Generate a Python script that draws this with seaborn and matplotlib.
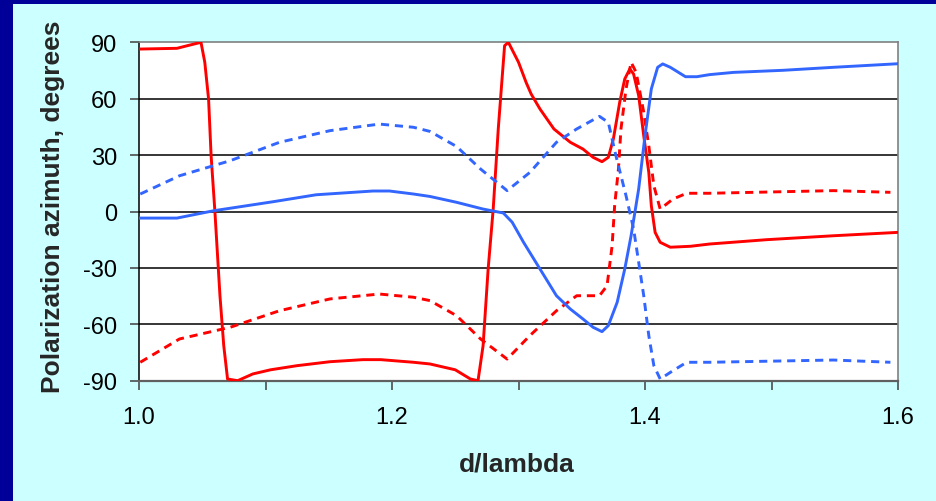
import matplotlib
matplotlib.use("Agg")
import matplotlib.pyplot as plt
import seaborn as sns
import numpy as np
from matplotlib.patches import Rectangle

# ---- data ----
red_solid_x = [1.000, 1.030, 1.040, 1.049, 1.052, 1.055, 1.057, 1.060, 1.064, 1.067, 1.070,
               1.078, 1.090, 1.104, 1.125, 1.151, 1.177, 1.191, 1.217, 1.230, 1.250, 1.262,
               1.268, 1.272, 1.276, 1.280, 1.284, 1.287, 1.289, 1.292, 1.300, 1.306, 1.310,
               1.317, 1.328, 1.341, 1.351, 1.359, 1.366, 1.371, 1.375, 1.380, 1.384, 1.388,
               1.391, 1.395, 1.399, 1.403, 1.405, 1.408, 1.412, 1.420, 1.436, 1.451, 1.496,
               1.549, 1.600]
red_solid_y = [86.4, 86.8, 88.5, 90.0, 79.4, 59.8, 29.7, 0.0, -44.8, -71.4, -89.1,
               -90.0, -86.4, -84.2, -82.0, -79.9, -78.8, -78.8, -80.2, -81.1, -84.2, -89.1,
               -90.0, -71.4, -30.6, 1.3, 43.9, 70.5, 88.2, 90.0, 79.4, 68.7, 62.5,
               54.5, 43.9, 36.8, 33.2, 28.8, 26.5, 28.8, 38.6, 58.1, 70.5, 75.8,
               73.1, 61.6, 40.3, 20.8, 3.1, -11.1, -16.4, -19.0, -18.5, -17.3, -15.0,
               -12.9, -11.1]

red_dash_x = [1.001, 1.032, 1.072, 1.111, 1.151, 1.190, 1.217, 1.230, 1.251, 1.270, 1.291,
              1.309, 1.330, 1.346, 1.364, 1.370, 1.374, 1.376, 1.379, 1.381, 1.385, 1.389,
              1.393, 1.399, 1.403, 1.407, 1.412, 1.422, 1.433, 1.451, 1.500, 1.549, 1.594]
red_dash_y = [-80.2, -67.8, -61.6, -52.8, -46.5, -43.9, -45.6, -47.4, -55.4, -67.8, -78.5,
              -66.0, -52.8, -44.8, -44.8, -39.5, -18.2, 3.1, 22.6, 43.9, 65.2, 79.4,
              74.0, 52.8, 35.0, 13.7, 1.3, 6.6, 9.7, 9.7, 10.4, 11.1, 10.2]

blue_solid_x = [1.000, 1.030, 1.059, 1.106, 1.140, 1.185, 1.198, 1.217, 1.230, 1.251, 1.272,
                1.288, 1.295, 1.304, 1.317, 1.330, 1.341, 1.351, 1.359, 1.366, 1.371, 1.378,
                1.384, 1.389, 1.395, 1.400, 1.405, 1.410, 1.414, 1.420, 1.432, 1.441, 1.451,
                1.470, 1.509, 1.549, 1.600]
blue_solid_y = [-3.5, -3.5, 0.4, 5.2, 8.9, 10.9, 10.9, 9.3, 8.0, 4.9, 1.3,
                -0.8, -5.7, -16.4, -30.6, -44.8, -51.9, -57.2, -61.6, -63.9, -60.7, -48.3,
                -30.6, -12.9, 12.0, 40.3, 65.2, 76.7, 78.5, 76.7, 71.7, 71.7, 72.8,
                74.0, 75.1, 76.7, 78.6]

blue_dash_x = [1.001, 1.032, 1.072, 1.111, 1.151, 1.190, 1.217, 1.230, 1.251, 1.270, 1.291,
               1.309, 1.330, 1.346, 1.364, 1.371, 1.377, 1.385, 1.391, 1.395, 1.399, 1.403,
               1.407, 1.412, 1.422, 1.433, 1.451, 1.500, 1.549, 1.594]
blue_dash_y = [9.3, 19.0, 27.0, 36.8, 43.0, 46.5, 44.8, 42.6, 34.6, 22.6, 11.1,
               20.8, 36.8, 43.9, 50.6, 47.4, 29.7, 8.4, -9.3, -27.0, -44.8, -66.0,
               -82.0, -89.1, -84.7, -80.2, -80.2, -79.6, -79.0, -80.2]

x_ticks = [1.0, 1.1, 1.2, 1.3, 1.4, 1.5, 1.6]
x_tick_labels = ["1.0", "", "1.2", "", "1.4", "", "1.6"]
y_ticks = [-90, -60, -30, 0, 30, 60, 90]

# ---- figure ----
sns.set_style("white")
plt.rcParams['font.family'] = ['Liberation Sans', 'DejaVu Sans']

W, H = 936, 502
fig = plt.figure(figsize=(W / 100, H / 100), dpi=100)
fig.patch.set_facecolor("#000099")
bg = Rectangle((13 / W, 0), 1 - 13 / W, (H - 5) / H,
               transform=fig.transFigure, facecolor="#CCFFFF",
               edgecolor="none", zorder=-10)
fig.add_artist(bg)

left, right, top, bottom = 139, 898, 43.3, 381.7
ax = fig.add_axes([left / W, (H - bottom) / H, (right - left) / W, (bottom - top) / H])
ax.set_zorder(1)
ax.set_facecolor("white")

RED = "#FF0000"
BLUE = "#3366FF"
LW = 2.1

sns.lineplot(x=red_solid_x, y=red_solid_y, ax=ax, color=RED, lw=LW, sort=False,
             estimator=None, zorder=3)
sns.lineplot(x=red_dash_x, y=red_dash_y, ax=ax, color=RED, lw=LW, sort=False,
             estimator=None, zorder=3)
sns.lineplot(x=blue_solid_x, y=blue_solid_y, ax=ax, color=BLUE, lw=LW, sort=False,
             estimator=None, zorder=3)
sns.lineplot(x=blue_dash_x, y=blue_dash_y, ax=ax, color=BLUE, lw=LW, sort=False,
             estimator=None, zorder=3)
lines = ax.get_lines()
for ln in (lines[1], lines[3]):
    ln.set_linestyle((0, (2.8, 2.0)))

ax.set_xlim(1.0, 1.6)
ax.set_ylim(-90, 90)
ax.set_xticks(x_ticks)
ax.set_xticklabels(x_tick_labels)
ax.set_yticks(y_ticks)
ax.set_yticklabels([str(v) for v in y_ticks])

for v in y_ticks[1:-1]:
    ax.axhline(v, color="black", lw=1.1, zorder=1)

for s in ("top", "right"):
    ax.spines[s].set_color("#808080")
    ax.spines[s].set_linewidth(1.2)
ax.spines["bottom"].set_color("#606060")
ax.spines["bottom"].set_linewidth(1.6)
ax.spines["left"].set_color("black")
ax.spines["left"].set_linewidth(1.1)

ax.tick_params(axis="both", direction="out", length=6.5, width=1.1, color="#404040",
               labelsize=17, labelcolor="black")
ax.tick_params(axis="x", bottom=True, pad=12)
ax.tick_params(axis="y", left=True, pad=9)

ax.set_xlabel("d/lambda", fontsize=19, fontweight="bold")
ax.set_ylabel("Polarization azimuth, degrees", fontsize=19, fontweight="bold")
ax.xaxis.set_label_coords((517 - left) / (right - left), -(465 - bottom) / (bottom - top))
ax.yaxis.set_label_coords(-(139 - 53) / (right - left), (bottom - 207) / (bottom - top))
ax.xaxis.label.set_va("center")
ax.yaxis.label.set_va("center")

fig.savefig("out.png", dpi=100, facecolor=fig.get_facecolor())
